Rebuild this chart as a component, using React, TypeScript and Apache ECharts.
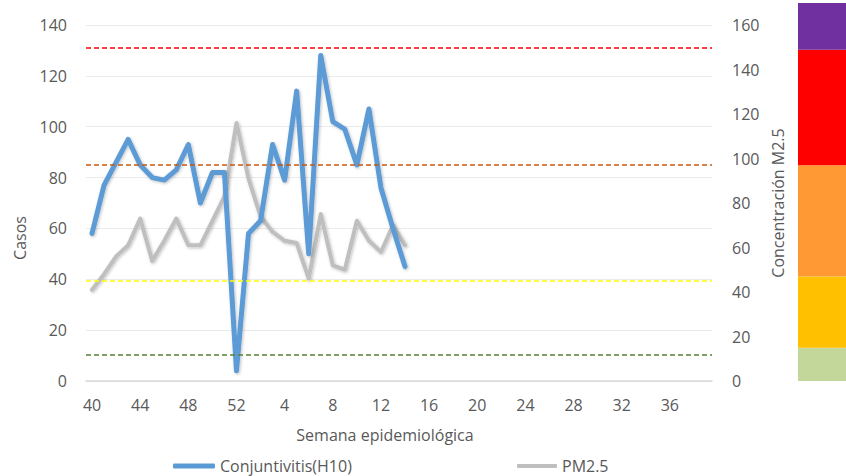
import React, { useEffect, useRef } from "react";
import * as echarts from "echarts";

const weeks = [
  "40", "41", "42", "43", "44", "45", "46", "47", "48", "49", "50", "51", "52",
  "1", "2", "3", "4", "5", "6", "7", "8", "9", "10", "11", "12", "13", "14", "15",
  "16", "17", "18", "19", "20", "21", "22", "23", "24", "25", "26", "27", "28", "29",
  "30", "31", "32", "33", "34", "35", "36", "37", "38", "39",
];
const casos = [58, 77, 86, 95, 85, 80, 79, 83, 93, 70, 82, 82, 4, 58, 63, 93, 79, 114, 50, 128, 102, 99, 85, 107, 76, 60, 45];
const pm25 = [41, 48, 56, 61, 73, 54, 63, 73, 61, 61, 72, 83, 116, 91, 74, 67, 63, 62, 46, 75, 52, 50, 72, 63, 58, 70, 61];
const thresholds = [12, 45, 97, 150];
const thresholdColors = ["#548235", "#FFFF00", "#C55A11", "#FF0000"];
const bandHeights = [15, 32, 50, 52, 21];
const bandColors = ["#C4D79B", "#FFC000", "#FF9933", "#FF0000", "#7030A0"];
const leftTicks = { min: 0, max: 140, interval: 20 };
const rightTicks = { min: 0, max: 160, interval: 20 };

const FONT = "'Open Sans', sans-serif";
const TXT = "#595959";

export default function App() {
  const ref = useRef<HTMLDivElement>(null);
  useEffect(() => {
    document.body.style.margin = "0";
    const chart = echarts.init(ref.current!, null, { renderer: "svg" });
    const bandSeries = bandHeights.map((h, i) => ({
      type: "bar",
      name: "band" + i,
      xAxisIndex: 1,
      yAxisIndex: 2,
      stack: "band",
      barWidth: "100%",
      silent: true,
      data: [h],
      itemStyle: { color: bandColors[i] },
    }));
    chart.setOption({
      animation: false,
      textStyle: { fontFamily: FONT },
      grid: [
        { left: 86, right: 134, top: 25, bottom: 95 },
        { left: 798, right: 0, top: 3, bottom: 95 },
      ],
      legend: [
        {
          left: 168,
          top: 453,
          data: ["Conjuntivitis(H10)"],
          icon: "roundRect",
          itemWidth: 42,
          itemHeight: 5,
          textStyle: { color: TXT, fontSize: 16, fontFamily: FONT },
        },
        {
          left: 512,
          top: 453,
          data: ["PM2.5"],
          icon: "roundRect",
          itemWidth: 40,
          itemHeight: 4,
          textStyle: { color: TXT, fontSize: 16, fontFamily: FONT },
        },
      ],
      xAxis: [
        {
          type: "category",
          data: weeks,
          gridIndex: 0,
          boundaryGap: true,
          axisTick: { show: false },
          axisLine: { lineStyle: { color: "#D9D9D9", width: 1.5 } },
          axisLabel: { interval: 3, color: TXT, fontSize: 16, margin: 16, fontFamily: FONT },
          name: "Semana epidemiológica",
          nameLocation: "middle",
          nameGap: 46,
          nameTextStyle: { color: TXT, fontSize: 16, fontFamily: FONT, padding: [0, 28, 0, 0] },
        },
        { type: "category", data: ["x"], gridIndex: 1, show: false },
      ],
      yAxis: [
        {
          type: "value",
          gridIndex: 0,
          ...leftTicks,
          axisLine: { show: false },
          axisTick: { show: false },
          splitLine: { lineStyle: { color: "#EBEBEB", width: 1 } },
          axisLabel: { color: TXT, fontSize: 16, margin: 19, fontFamily: FONT },
          name: "Casos",
          nameLocation: "middle",
          nameRotate: 90,
          nameGap: 58,
          nameTextStyle: { color: TXT, fontSize: 16, fontFamily: FONT, padding: [0, 70, 0, 0] },
        },
        {
          type: "value",
          gridIndex: 0,
          position: "right",
          ...rightTicks,
          axisLine: { show: false },
          axisTick: { show: false },
          splitLine: { show: false },
          axisLabel: { color: TXT, fontSize: 16, margin: 20, fontFamily: FONT },
          name: "Concentración M2.5",
          nameLocation: "middle",
          nameRotate: 90,
          nameGap: 58,
          nameTextStyle: { color: TXT, fontSize: 16, fontFamily: FONT },
        },
        { type: "value", gridIndex: 2 - 1, min: 0, max: 170, show: false },
      ],
      series: [
        {
          type: "line",
          name: "thresholds",
          xAxisIndex: 0,
          yAxisIndex: 1,
          data: [],
          z: 1,
          silent: true,
          markLine: {
            silent: true,
            symbol: "none",
            label: { show: false },
            data: thresholds.map((v, i) => ({
              yAxis: v,
              lineStyle: { color: thresholdColors[i], width: 1.5, type: [5, 3] },
            })),
          },
        },
        {
          type: "line",
          name: "PM2.5",
          xAxisIndex: 0,
          yAxisIndex: 1,
          data: pm25,
          symbol: "none",
          z: 3,
          color: "#BFBFBF",
          lineStyle: {
            color: "#BFBFBF",
            width: 4,
            cap: "round",
            join: "round",
            shadowBlur: 3,
            shadowColor: "rgba(0,0,0,0.25)",
            shadowOffsetX: 1,
            shadowOffsetY: 1,
          },
        },
        {
          type: "line",
          name: "Conjuntivitis(H10)",
          xAxisIndex: 0,
          yAxisIndex: 0,
          data: casos,
          symbol: "none",
          z: 4,
          color: "#5B9BD5",
          lineStyle: {
            color: "#5B9BD5",
            width: 5,
            cap: "round",
            join: "round",
            shadowBlur: 3,
            shadowColor: "rgba(0,0,0,0.25)",
            shadowOffsetX: 1,
            shadowOffsetY: 1,
          },
        },
        ...bandSeries,
      ],
    });
    return () => chart.dispose();
  }, []);
  return (
    <div
      ref={ref}
      style={{ position: "fixed", left: 0, top: 0, width: 846, height: 476, background: "#fff" }}
    />
  );
}
